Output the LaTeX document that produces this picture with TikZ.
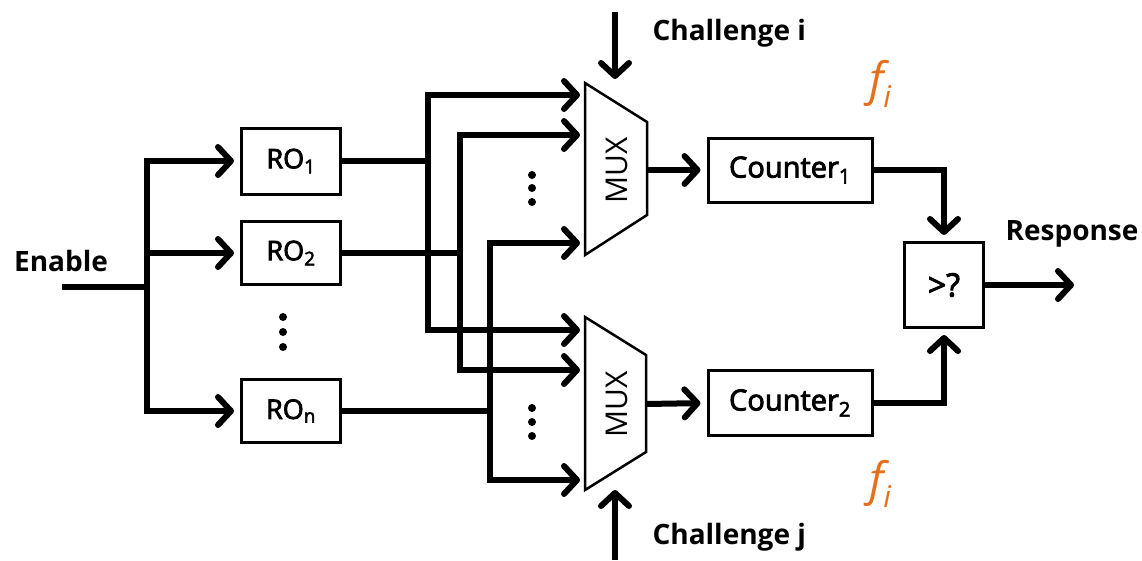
\documentclass[tikz,border=0pt]{standalone}
\usepackage{fontspec}
\setmainfont{Open Sans}
\newfontfamily\semib[FakeBold=3]{Open Sans}
\usetikzlibrary{arrows.meta}
\definecolor{fcol}{RGB}{228,112,30}
\tikzset{
  wire/.style={line width=6pt},
  arr/.style={wire, shorten >=6pt, -{Straight Barb[length=13pt,width=28pt,line width=6pt,round]}},
  box/.style={draw, line width=3pt, inner sep=0pt, font=\fontsize{27}{30}\selectfont\semib},
  lbl/.style={font=\fontsize{28}{32}\selectfont\bfseries},
  muxshape/.style={draw, line width=2.5pt, line join=miter},
  muxtxt/.style={rotate=90, font=\fontsize{30}{32}\selectfont},
  ftxt/.style={text=fcol, font=\fontsize{46}{50}\selectfont\itshape},
  dot/.style={fill=black},
}
\begin{document}
\begin{tikzpicture}[x=1pt,y=-1pt]
\useasboundingbox (0,0) rectangle (1142,560);

% Enable and RO boxes
\node[lbl] (enable) at (61,261) {Enable};
\node[box, minimum width=99pt, minimum height=66pt] (ro1) at (291,161) {RO\textsubscript{1}};
\node[box, minimum width=99pt, minimum height=63pt] (ro2) at (291,253) {RO\textsubscript{2}};
\node[box, minimum width=99pt, minimum height=63pt] (ron) at (291,411) {RO\textsubscript{n}};
\coordinate (e0) at (62,287);
\coordinate (ej) at (147,287);
\draw[wire] (e0) -- (ej);
\draw[arr] (ej) |- (ro1.west);
\draw[arr] (ej) |- (ro2.west);
\draw[arr] (ej) |- (ron.west);
\fill[dot] (283,317) circle (4) (283,332) circle (4) (283,347) circle (4);

% MUX shapes
\draw[muxshape] (585,83) -- (647,122) -- (647,215) -- (585,255) -- cycle;
\draw[muxshape] (585,317) -- (646,355) -- (646,452) -- (585,490) -- cycle;
\node[muxtxt] (mux1) at (617,170) {MUX};
\node[muxtxt] (mux2) at (617,404) {MUX};
\coordinate (m1a) at (586,95);
\coordinate (m1b) at (586,135);
\coordinate (m1c) at (586,243);
\coordinate (m2a) at (586,330);
\coordinate (m2b) at (586,370);
\coordinate (m2c) at (586,480);
\coordinate (m1o) at (647,170);
\coordinate (m2o) at (646,404);
\fill[dot] (532,175) circle (4) (532,188) circle (4) (532,202) circle (4);
\fill[dot] (532,408) circle (4) (532,422) circle (4) (532,436) circle (4);

% buses
\coordinate (b1) at (428,161);
\coordinate (b2) at (460,253);
\coordinate (b3) at (490,411);
\draw[wire] (ro1.east) -- (b1);
\draw[wire] (ro2.east) -- (b2);
\draw[wire] (ron.east) -- (b3);
\draw[arr] (b1) |- (m1a);
\draw[arr] (b1) |- (m2a);
\draw[arr] (b2) |- (m1b);
\draw[arr] (b2) |- (m2b);
\draw[arr] (b3) |- (m1c);
\draw[arr] (b3) |- (m2c);

% challenges
\coordinate (ci) at (615,12);
\coordinate (cit) at (615,85);
\coordinate (cj) at (615,560);
\coordinate (cjt) at (615,484);
\draw[arr] (ci) -- (cit);
\draw[arr] (cj) -- (cjt);
\node[lbl, anchor=west] (chi) at (649,33) {Challenge i};
\node[lbl, anchor=west] (chj) at (649,537) {Challenge j};

% counters and comparator
\node[box, minimum width=164pt, minimum height=64pt, font=\fontsize{29}{32}\selectfont\semib] (cnt1) at (790,170) {Counter\textsubscript{1}};
\node[box, minimum width=164pt, minimum height=65pt, font=\fontsize{29}{32}\selectfont\semib] (cnt2) at (790,403) {Counter\textsubscript{2}};
\node[box, minimum width=79pt, minimum height=85pt, font=\fontsize{32}{34}\selectfont\semib] (cmp) at (944,285) {>?};
\draw[arr] (m1o) -- (cnt1.west);
\draw[arr] (m2o) -- (cnt2.west);
\draw[arr] (cnt1.east) -| (cmp.north);
\draw[arr] (cnt2.east) -| (cmp.south);
\coordinate (resp) at (1080,285);
\draw[arr] (cmp.east) -- (resp);
\node[lbl] (response) at (1072,234) {Response};

% frequencies
\node[ftxt] (f1) at (880,84) {f\raisebox{-12pt}{\fontsize{30}{32}\selectfont i}};
\node[ftxt] (f2) at (880,484) {f\raisebox{-12pt}{\fontsize{30}{32}\selectfont i}};
\end{tikzpicture}
\end{document}
